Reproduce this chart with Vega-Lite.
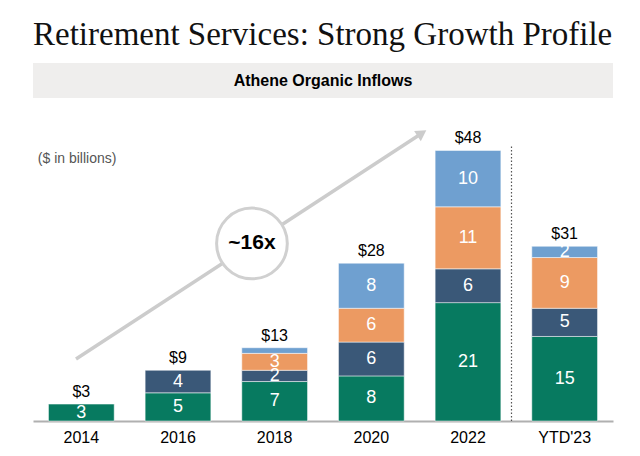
{
  "$schema": "https://vega.github.io/schema/vega-lite/v6.json",
  "background": "white",
  "padding": {"left": 33, "right": 27, "top": 19, "bottom": 0},
  "title": {"text": "Retirement Services: Strong Growth Profile", "font": "Liberation Serif", "fontSize": 33, "fontWeight": "normal", "color": "#111111", "anchor": "start", "offset": 11},
  "config": {"view": {"stroke": null}, "concat": {"spacing": 13}},
  "datasets": {
    "segs": [
      {"year": "2014", "segment": "A", "order": 1, "value": 3, "label": "3"},
      {"year": "2016", "segment": "A", "order": 1, "value": 5, "label": "5"},
      {"year": "2016", "segment": "B", "order": 2, "value": 4, "label": "4"},
      {"year": "2018", "segment": "A", "order": 1, "value": 7, "label": "7"},
      {"year": "2018", "segment": "B", "order": 2, "value": 2, "label": "2"},
      {"year": "2018", "segment": "C", "order": 3, "value": 3, "label": "3"},
      {"year": "2018", "segment": "D", "order": 4, "value": 1, "label": ""},
      {"year": "2020", "segment": "A", "order": 1, "value": 8, "label": "8"},
      {"year": "2020", "segment": "B", "order": 2, "value": 6, "label": "6"},
      {"year": "2020", "segment": "C", "order": 3, "value": 6, "label": "6"},
      {"year": "2020", "segment": "D", "order": 4, "value": 8, "label": "8"},
      {"year": "2022", "segment": "A", "order": 1, "value": 21, "label": "21"},
      {"year": "2022", "segment": "B", "order": 2, "value": 6, "label": "6"},
      {"year": "2022", "segment": "C", "order": 3, "value": 11, "label": "11"},
      {"year": "2022", "segment": "D", "order": 4, "value": 10, "label": "10"},
      {"year": "YTD'23", "segment": "A", "order": 1, "value": 15, "label": "15"},
      {"year": "YTD'23", "segment": "B", "order": 2, "value": 5, "label": "5"},
      {"year": "YTD'23", "segment": "C", "order": 3, "value": 9, "label": "9"},
      {"year": "YTD'23", "segment": "D", "order": 4, "value": 2, "label": "2"}
    ],
    "totals": [
      {"year": "2014", "total": 3, "label": "$3"},
      {"year": "2016", "total": 9, "label": "$9"},
      {"year": "2018", "total": 13, "label": "$13"},
      {"year": "2020", "total": 28, "label": "$28"},
      {"year": "2022", "total": 48, "label": "$48"},
      {"year": "YTD'23", "total": 31, "label": "$31"}
    ],
    "arrow": [
      {"px": 0.445, "py": 11.0},
      {"px": 4.023, "py": 51.05}
    ],
    "head": [{"px": 4.023, "py": 51.05}],
    "badge": [{"px": 2.265, "py": 31.5, "t": "~16x"}],
    "divider": [{"px": 4.95, "y0": 0, "y1": 48.7}],
    "unit": [{"px": 0.05, "py": 46.5, "t": "($ in billions)"}]
  },
  "vconcat": [
    {
      "width": 580,
      "height": 35,
      "view": {"fill": "#efeeed", "stroke": null},
      "data": {"values": [{"t": "Athene Organic Inflows"}]},
      "mark": {"type": "text", "font": "Liberation Sans", "fontSize": 16, "fontWeight": "bold", "color": "#000000"},
      "encoding": {"text": {"field": "t", "type": "nominal"}}
    },
    {
      "width": 580,
      "height": 310,
      "resolve": {"scale": {"x": "independent"}},
      "layer": [
        {
          "layer": [
            {
              "data": {"name": "segs"},
              "mark": {"type": "bar", "stroke": "white", "strokeWidth": 0.5},
              "encoding": {
                "x": {"field": "year", "type": "nominal", "sort": null,
                  "scale": {"paddingInner": 0.32, "paddingOuter": 0.16},
                  "axis": {"title": null, "labelAngle": 0, "labelFont": "Liberation Sans", "labelFontSize": 16, "labelColor": "#000000", "ticks": false, "domainColor": "#b0b0b0", "domainWidth": 2, "labelPadding": 8}},
                "y": {"field": "value", "type": "quantitative", "stack": "zero", "scale": {"domain": [0, 55], "nice": false}, "axis": null},
                "color": {"field": "segment", "type": "nominal", "legend": null,
                  "scale": {"domain": ["A", "B", "C", "D"], "range": ["#077a60", "#3a5878", "#ec9a62", "#6fa0d0"]}},
                "order": {"field": "order", "type": "quantitative"}
              }
            },
            {
              "data": {"name": "segs"},
              "transform": [
                {"stack": "value", "groupby": ["year"], "sort": [{"field": "order"}], "as": ["v0", "v1"]},
                {"calculate": "(datum.v0 + datum.v1) / 2", "as": "mid"}
              ],
              "mark": {"type": "text", "font": "Liberation Sans", "fontSize": 18, "color": "white", "baseline": "middle"},
              "encoding": {
                "x": {"field": "year", "type": "nominal", "sort": null},
                "y": {"field": "mid", "type": "quantitative", "scale": {"domain": [0, 55], "nice": false}},
                "text": {"field": "label", "type": "nominal"}
              }
            },
            {
              "data": {"name": "totals"},
              "mark": {"type": "text", "font": "Liberation Sans", "fontSize": 16, "color": "#000000", "baseline": "bottom", "dy": -4},
              "encoding": {
                "x": {"field": "year", "type": "nominal", "sort": null},
                "y": {"field": "total", "type": "quantitative", "scale": {"domain": [0, 55], "nice": false}},
                "text": {"field": "label", "type": "nominal"}
              }
            }
          ]
        },
        {
          "layer": [
            {
              "data": {"name": "divider"},
              "mark": {"type": "rule", "color": "#555555", "strokeWidth": 1.2, "strokeDash": [1.5, 2]},
              "encoding": {
                "x": {"field": "px", "type": "quantitative", "scale": {"domain": [0, 6], "nice": false, "zero": false}, "axis": null},
                "y": {"field": "y0", "type": "quantitative", "scale": {"domain": [0, 55], "nice": false}},
                "y2": {"field": "y1"}
              }
            },
            {
              "data": {"name": "arrow"},
              "mark": {"type": "line", "color": "#cccccc", "strokeWidth": 3.5},
              "encoding": {
                "x": {"field": "px", "type": "quantitative", "scale": {"domain": [0, 6], "nice": false, "zero": false}, "axis": null},
                "y": {"field": "py", "type": "quantitative", "scale": {"domain": [0, 55], "nice": false}}
              }
            },
            {
              "data": {"name": "head"},
              "mark": {"type": "point", "shape": "triangle-up", "filled": true, "color": "#cccccc", "opacity": 1, "size": 150, "angle": 56.9},
              "encoding": {
                "x": {"field": "px", "type": "quantitative", "scale": {"domain": [0, 6], "nice": false, "zero": false}, "axis": null},
                "y": {"field": "py", "type": "quantitative", "scale": {"domain": [0, 55], "nice": false}}
              }
            },
            {
              "data": {"name": "badge"},
              "mark": {"type": "point", "shape": "circle", "filled": false, "fill": "white", "fillOpacity": 1, "stroke": "#d0d0d0", "strokeWidth": 3, "opacity": 1, "size": 5000},
              "encoding": {
                "x": {"field": "px", "type": "quantitative", "scale": {"domain": [0, 6], "nice": false, "zero": false}, "axis": null},
                "y": {"field": "py", "type": "quantitative", "scale": {"domain": [0, 55], "nice": false}}
              }
            },
            {
              "data": {"name": "badge"},
              "mark": {"type": "text", "font": "Liberation Sans", "fontSize": 21, "fontWeight": "bold", "color": "#000000", "baseline": "middle"},
              "encoding": {
                "x": {"field": "px", "type": "quantitative", "scale": {"domain": [0, 6], "nice": false, "zero": false}, "axis": null},
                "y": {"field": "py", "type": "quantitative", "scale": {"domain": [0, 55], "nice": false}},
                "text": {"field": "t", "type": "nominal"}
              }
            },
            {
              "data": {"name": "unit"},
              "mark": {"type": "text", "font": "Liberation Sans", "fontSize": 14, "color": "#555555", "align": "left", "baseline": "middle"},
              "encoding": {
                "x": {"field": "px", "type": "quantitative", "scale": {"domain": [0, 6], "nice": false, "zero": false}, "axis": null},
                "y": {"field": "py", "type": "quantitative", "scale": {"domain": [0, 55], "nice": false}},
                "text": {"field": "t", "type": "nominal"}
              }
            }
          ]
        }
      ]
    }
  ]
}
